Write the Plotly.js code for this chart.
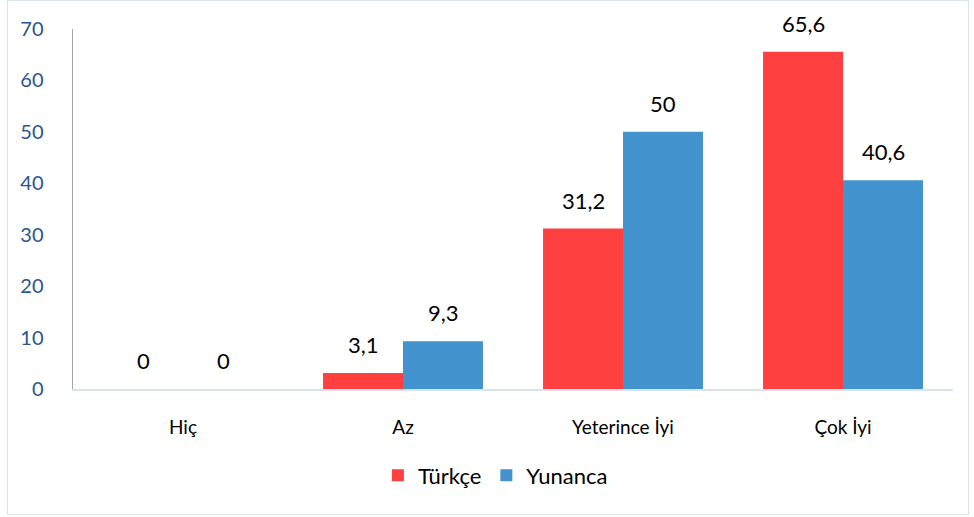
<!DOCTYPE html>
<html><head><meta charset="utf-8">
<script src="https://cdn.plot.ly/plotly-3.0.1.min.js"></script>
<style>
body{margin:0;padding:0;background:#fff;}
#wrap{position:relative;width:974px;height:517px;}
#chart{width:974px;height:517px;}
#frame{position:absolute;left:7px;top:0px;width:960px;height:513px;border:1.5px solid #DAE3F3;pointer-events:none;}
</style></head>
<body>
<div id="wrap"><div id="chart"></div><div id="frame"></div></div>
<script>
const categories = ["Hiç", "Az", "Yeterince İyi", "Çok İyi"];
const turkce = [0, 3.1, 31.2, 65.6];
const yunanca = [0, 9.3, 50, 40.6];
const seriesNames = ["Türkçe", "Yunanca"];
const yTicks = [0, 10, 20, 30, 40, 50, 60, 70];

const fmt = v => String(v).replace('.', ',');
const FONT = 'Lato, "Open Sans", sans-serif';

const traces = [
  {type:'bar', name:seriesNames[0], x:categories, y:turkce, marker:{color:'#FF4040'}, hoverinfo:'none'},
  {type:'bar', name:seriesNames[1], x:categories, y:yunanca, marker:{color:'#4393CF'}, hoverinfo:'none'}
];

const annotations = [];
[turkce, yunanca].forEach((arr, si) => {
  arr.forEach((v, i) => {
    annotations.push({
      x: categories[i], y: v, xref:'x', yref:'y',
      xshift: si === 0 ? -40 : 40, yshift: 13,
      yanchor:'bottom', showarrow:false,
      text: fmt(v), font:{family:FONT, size:22, color:'#000'}
    });
  });
});

const layout = {
  width:974, height:517,
  margin:{l:73, r:21, t:29, b:128},
  paper_bgcolor:'#fff', plot_bgcolor:'#fff',
  barmode:'group', bargap:0.273, bargroupgap:0,
  font:{family:FONT},
  showlegend:true,
  legend:{orientation:'h', x:0.48, xanchor:'center', y:-0.24, yanchor:'middle',
          font:{family:FONT, size:22, color:'#000'}, itemwidth:30, tracegroupgap:0},
  xaxis:{type:'category', showgrid:false, zeroline:false, showline:true, linecolor:'#D9E2F3', linewidth:2,
         ticks:'', tickfont:{family:FONT, size:19, color:'#000'}, ticklabelstandoff:20, fixedrange:true},
  yaxis:{range:[0,70], tickvals:yTicks, ticktext:yTicks.map(String), showgrid:false, zeroline:false,
         showline:true, linecolor:'#A6A6A6', linewidth:1.5, ticks:'',
         tickfont:{family:FONT, size:20, color:'#2B5590'}, ticklabelstandoff:24, fixedrange:true},
  annotations: annotations
};

Plotly.newPlot('chart', traces, layout, {displayModeBar:false, staticPlot:true});
</script>
</body></html>
